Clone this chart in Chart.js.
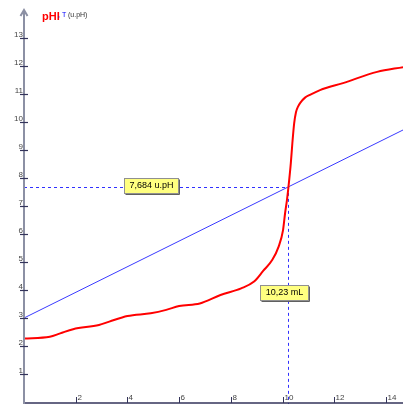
<!DOCTYPE html>
<html>
<head>
<meta charset="utf-8">
<script src="https://cdn.jsdelivr.net/npm/chart.js@4.4.1/dist/chart.umd.min.js"></script>
<style>
  body { margin: 0; background: #fff; }
  #box { width: 403px; height: 405px; }
</style>
</head>
<body>
<div id="box"><canvas id="graficoPH"></canvas></div>
<script>
// --- dados ---
const volume = [0, 1, 1.4, 1.9, 2.9, 3.3, 4.0, 4.9, 5.5, 6.0, 6.8, 7.6, 8.4, 8.9, 9.25, 9.6, 9.85, 10.02, 10.1, 10.17, 10.23, 10.32, 10.38, 10.45, 10.52, 10.6, 10.7, 10.87, 11.06, 11.45, 12.34, 13.66, 14.66];
const pH =     [2.27, 2.33, 2.45, 2.6, 2.75, 2.87, 3.07, 3.17, 3.29, 3.43, 3.52, 3.82, 4.06, 4.3, 4.68, 5.07, 5.55, 6.14, 6.75, 7.2, 7.68, 8.52, 9.24, 9.95, 10.35, 10.55, 10.7, 10.87, 10.97, 11.14, 11.39, 11.79, 11.96];

// tangente
const tangX = [0, 15];
const tangY = [3.0, 9.87];

// ponto de equivalência
const vEq = 10.23;
const phEq = 7.684;
const labelEq = ['7,684 u.pH', '10,23 mL'];

const xTicks = [2, 4, 6, 8, 10, 12, 14];
const yTicks = [1, 2, 3, 4, 5, 6, 7, 8, 9, 10, 11, 12, 13];

function caixa(ctx, txt, cx, cy) {
    ctx.font = '9px Arial';
    const w = Math.round(ctx.measureText(txt).width) + 10;
    const h = 15;
    const x = Math.round(cx - w / 2) + 0.5, y = Math.round(cy - h / 2) + 0.5;
    ctx.fillStyle = '#ffff80';
    ctx.fillRect(x, y, w, h);
    ctx.strokeStyle = '#909090';
    ctx.lineWidth = 1;
    ctx.strokeRect(x, y, w, h);
    ctx.strokeStyle = '#606060';
    ctx.beginPath();
    ctx.moveTo(x + 1, y + h + 1); ctx.lineTo(x + w + 1, y + h + 1); ctx.lineTo(x + w + 1, y + 1);
    ctx.stroke();
    ctx.fillStyle = '#000';
    ctx.textAlign = 'center';
    ctx.textBaseline = 'middle';
    ctx.fillText(txt, cx + 0.5, cy + 1);
}

const eixos = {
    id: 'eixos',
    beforeDatasetsDraw(chart) {
        const ctx = chart.ctx, xs = chart.scales.x, ys = chart.scales.y;
        const px = xs.getPixelForValue(vEq), py = ys.getPixelForValue(phEq);
        ctx.save();
        ctx.strokeStyle = '#3030ff';
        ctx.lineWidth = 1;
        ctx.setLineDash([3, 3]);
        ctx.beginPath();
        ctx.moveTo(xs.left, Math.round(py) + 0.5); ctx.lineTo(px, Math.round(py) + 0.5);
        ctx.moveTo(Math.round(px) + 0.5, py); ctx.lineTo(Math.round(px) + 0.5, ys.bottom + 2);
        ctx.stroke();
        ctx.restore();
    },
    afterDraw(chart) {
        const ctx = chart.ctx, xs = chart.scales.x, ys = chart.scales.y;
        const x0 = xs.getPixelForValue(0), y0 = ys.getPixelForValue(0);
        ctx.save();
        // eixo x
        ctx.strokeStyle = '#33335a';
        ctx.lineWidth = 1.5;
        ctx.beginPath();
        ctx.moveTo(x0, y0 + 1); ctx.lineTo(xs.right, y0 + 1);
        ctx.stroke();
        ctx.lineWidth = 1;
        ctx.font = '8px Arial';
        ctx.fillStyle = '#444';
        ctx.textAlign = 'left';
        ctx.textBaseline = 'alphabetic';
        xTicks.forEach(v => {
            const p = Math.round(xs.getPixelForValue(v)) + 0.5;
            ctx.beginPath(); ctx.moveTo(p, y0 + 1); ctx.lineTo(p, y0 - 5); ctx.stroke();
            ctx.fillText(String(v), p + 1, y0 - 2);
        });
        // eixo y
        ctx.strokeStyle = '#8c90a4';
        ctx.lineWidth = 2;
        ctx.beginPath();
        ctx.moveTo(x0, y0 + 2); ctx.lineTo(x0, ys.top + 1);
        ctx.moveTo(x0 - 3.5, ys.top + 6); ctx.lineTo(x0, ys.top); ctx.lineTo(x0 + 3.5, ys.top + 6);
        ctx.stroke();
        ctx.strokeStyle = '#33335a';
        ctx.lineWidth = 1.2;
        ctx.textAlign = 'right';
        yTicks.forEach(v => {
            const p = Math.round(ys.getPixelForValue(v)) + 0.5;
            ctx.beginPath(); ctx.moveTo(x0 - 4, p); ctx.lineTo(x0 + 4, p); ctx.stroke();
            ctx.fillText(String(v), x0 - 1, p - 2);
        });
        // título
        ctx.textAlign = 'left';
        ctx.font = 'bold 11px Arial';
        ctx.fillStyle = '#ff0000';
        ctx.fillText('pHI', 42, 20);
        ctx.font = '7px Arial';
        ctx.fillStyle = '#0000ff';
        ctx.fillText(', T', 58, 17);
        ctx.fillStyle = '#333';
        ctx.fillText('(u.pH)', 68, 17);
        // etiquetas
        caixa(ctx, labelEq[0], 151, 185);
        caixa(ctx, labelEq[1], 284, 292);
        ctx.restore();
    }
};

new Chart(document.getElementById('graficoPH'), {
    type: 'scatter',
    data: {
        datasets: [{
            label: 'pHI',
            data: volume.map((v, i) => ({ x: v, y: pH[i] })),
            showLine: true,
            borderColor: '#ff0000',
            borderWidth: 2,
            pointRadius: 0,
            cubicInterpolationMode: 'monotone'
        }, {
            label: 'T',
            data: tangX.map((v, i) => ({ x: v, y: tangY[i] })),
            showLine: true,
            borderColor: '#3a3aff',
            borderWidth: 1,
            pointRadius: 0
        }]
    },
    options: {
        responsive: true,
        maintainAspectRatio: false,
        animation: false,
        layout: { padding: { left: 24, top: 10, right: 0, bottom: 3 } },
        scales: {
            x: { type: 'linear', min: 0, max: 14.66, display: false },
            y: { min: 0, max: 14, display: false }
        },
        plugins: {
            legend: { display: false },
            tooltip: { enabled: false }
        }
    },
    plugins: [eixos]
});
</script>
</body>
</html>
